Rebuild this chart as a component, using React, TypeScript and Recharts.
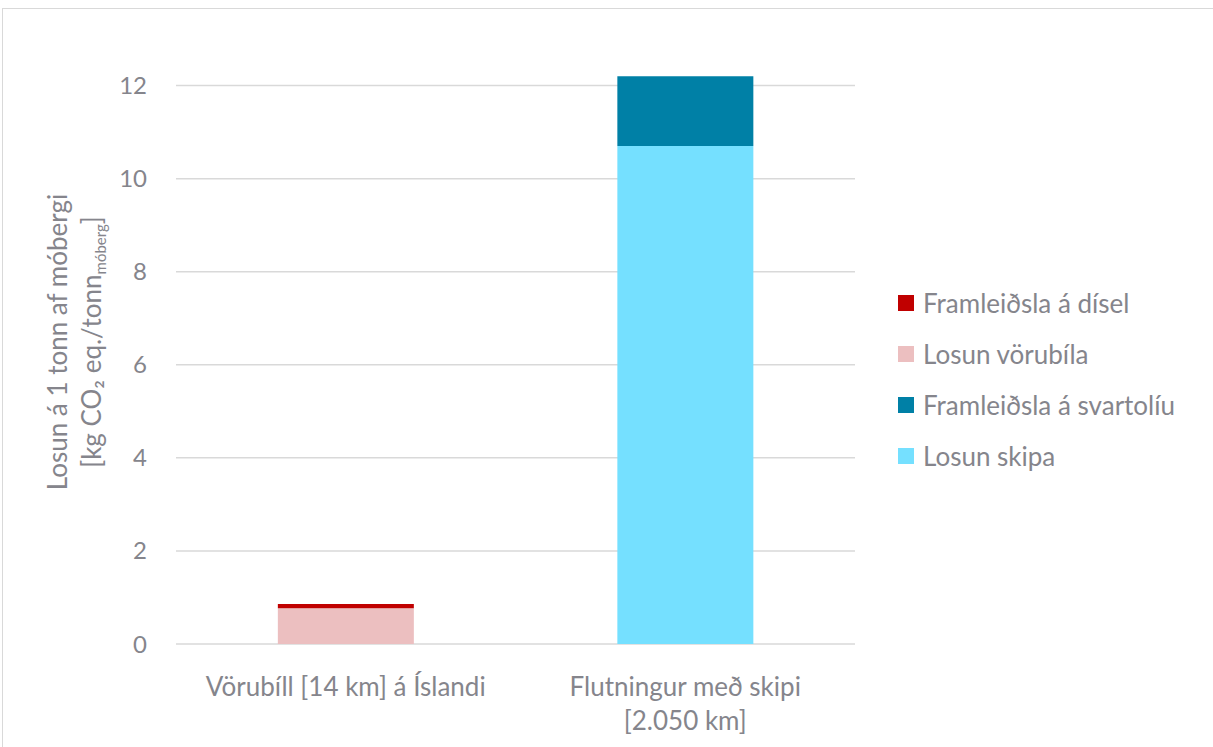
import { Bar, BarChart, CartesianGrid, Legend, XAxis, YAxis } from "recharts";

const categories = ["Vörubíll [14 km] á Íslandi", "Flutningur með skipi\n[2.050 km]"];
const losunSkipa = [0, 10.7];
const framleidslaSvartoliu = [0, 1.5];
const losunVorubila = [0.77, 0];
const framleidslaDisel = [0.09, 0];
const yTicks = [0, 2, 4, 6, 8, 10, 12];

const series = [
  { key: "losunSkipa", name: "Losun skipa", color: "#75e0ff", values: losunSkipa },
  { key: "framleidslaSvartoliu", name: "Framleiðsla á svartolíu", color: "#0080a6", values: framleidslaSvartoliu },
  { key: "losunVorubila", name: "Losun vörubíla", color: "#ecbfc0", values: losunVorubila },
  { key: "framleidslaDisel", name: "Framleiðsla á dísel", color: "#c00000", values: framleidslaDisel },
];

const data = categories.map((name, i) => {
  const row: Record<string, string | number> = { name };
  series.forEach((s) => (row[s.key] = s.values[i]));
  return row;
});

const FONT = "Lato, 'Open Sans', sans-serif";
const TEXT = "#85858c";
const FS = 26;

const XTick = (props: any) => {
  const { x, y, payload } = props;
  const lines = String(payload.value).split("\n");
  return (
    <g>
      {lines.map((l, i) => (
        <text key={i} x={x} y={y + 44 + i * 34} textAnchor="middle" fill={TEXT} fontSize={FS} fontFamily={FONT}>
          {l}
        </text>
      ))}
    </g>
  );
};

const YLabel = () => (
  <g fill={TEXT} fontSize={FS} fontFamily={FONT}>
    <text x={64} y={333} textAnchor="middle" transform="rotate(-90, 64, 333)">
      Losun á 1 tonn af móbergi
    </text>
    <text x={98} y={333} textAnchor="middle" transform="rotate(-90, 98, 333)">
      [kg CO₂ eq./tonn
      <tspan fontSize={15} dy={5}>móberg</tspan>
      <tspan dy={-5}>]</tspan>
    </text>
  </g>
);

const renderLegend = () => {
  const items = [...series].reverse();
  return (
    <div style={{ fontFamily: FONT, fontSize: FS, color: TEXT }}>
      {items.map((it) => (
        <div key={it.key} style={{ display: "flex", alignItems: "center", height: 51 }}>
          <span style={{ width: 16, height: 16, background: it.color, marginRight: 9, display: "inline-block" }} />
          <span>{it.name}</span>
        </div>
      ))}
    </div>
  );
};

export default function App() {
  return (
    <>
      <style>{`body{margin:0;overflow:hidden}`}</style>
      <div
        style={{
          position: "absolute",
          left: 2,
          top: 8,
          width: 1220,
          height: 745,
          border: "1px solid #d9d9d9",
          boxSizing: "border-box",
          background: "#fff",
        }}
      >
        <BarChart
          width={1217}
          height={743}
          data={data}
          margin={{ top: 58, right: 365, bottom: 48, left: 93 }}
          barCategoryGap="30%"
        >
          <CartesianGrid horizontal vertical={false} horizontalValues={yTicks} stroke="#d9d9d9" strokeWidth={1.5} />
          <XAxis dataKey="name" axisLine={false} tickLine={false} height={60} tick={<XTick />} interval={0} />
          <YAxis
            width={80}
            domain={[0, 12.4]}
            ticks={yTicks}
            axisLine={false}
            tickLine={false}
            tickSize={0}
            tickMargin={29}
            tick={{ fill: TEXT, fontSize: 24, fontFamily: FONT }}
            label={{ content: () => <YLabel /> }}
          />
          <Legend
            layout="vertical"
            align="center"
            verticalAlign="middle"
            content={renderLegend}
            wrapperStyle={{ left: 895, top: 268, width: 320 }}
          />
          {series.map((s) => (
            <Bar key={s.key} dataKey={s.key} name={s.name} stackId="a" fill={s.color} isAnimationActive={false} />
          ))}
        </BarChart>
      </div>
    </>
  );
}
